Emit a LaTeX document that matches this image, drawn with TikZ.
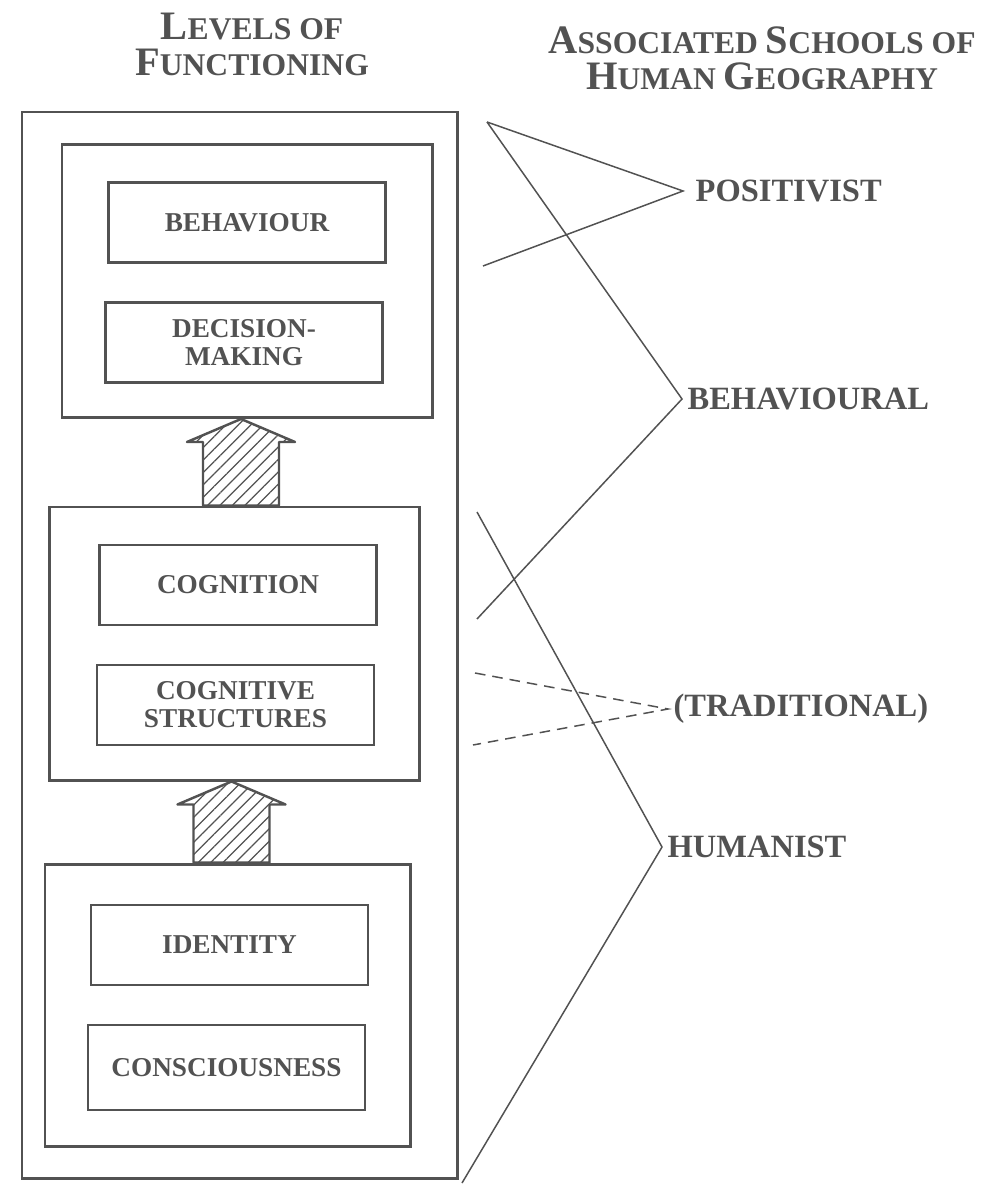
\documentclass[tikz,border=0pt]{standalone}
\usepackage{fontspec}
\setmainfont{Liberation Serif}
\usepackage{xcolor}
\usetikzlibrary{calc,patterns.meta}
\definecolor{ink}{RGB}{82,82,82}
\newdimen\pxu
\pxu=0.02cm
% hand-made small caps
\newcommand{\bigsc}[2]{{\fontsize{23}{21}\selectfont #1}{\fontsize{18}{21}\selectfont #2}}
% hatched arrow: shaft x, lower box, upper box
\newcommand{\liftarrow}[3]{%
  \draw[hatch] (#1-38,0 |- #2.north) -- ($(#1-38,0 |- #3.south)+(0,23)$)
    -- ($(#1-54,0 |- #3.south)+(0,23)$) -- (#1,0 |- #3.south)
    -- ($(#1+54,0 |- #3.south)+(0,23)$) -- ($(#1+38,0 |- #3.south)+(0,23)$)
    -- (#1+38,0 |- #2.north) -- cycle;}

\begin{document}
\begin{tikzpicture}[
        x=0.02cm, y=-0.02cm,
        head/.style={align=center, text=ink, font={\bfseries\fontsize{18}{20.5}\selectfont}},
        frame/.style={rectangle, draw=ink, line width=1.7pt, minimum width=435\pxu, minimum height=1066\pxu},
        group/.style={rectangle, draw=ink, line width=1.7pt, minimum width=370\pxu, minimum height=273\pxu},
        item/.style={rectangle, draw=ink, line width=1.6pt, minimum width=277\pxu, minimum height=80\pxu,
            align=center, text=ink, font={\bfseries\fontsize{15.5}{16}\selectfont}},
        school/.style={anchor=west, inner xsep=3pt, text=ink, font={\bfseries\fontsize{18.5}{22}\selectfont}},
        hatch/.style={draw=ink, line width=1.4pt, line join=round,
            pattern={Lines[angle=45, distance=5pt, line width=0.7pt]}, pattern color=ink},
        conn/.style={draw=ink, line width=0.85pt}
    ]
    \useasboundingbox (0,0) rectangle (995,1185);

    % headings
    \node[head] (lvl) at (252,44) {\bigsc{L}{EVELS OF}\\\bigsc{F}{UNCTIONING}};
    \node[head] (sch) at (762,58) {\bigsc{A}{SSOCIATED }\bigsc{S}{CHOOLS OF}\\\bigsc{H}{UMAN }\bigsc{G}{EOGRAPHY}};

    % levels
    \node[frame] (levels) at (239.5,645) {};
    \node[group] (act) at (247,281) {};
    \node[item] (beh) at (247,222.5) {BEHAVIOUR};
    \node[item] (dec) at (244,342.5) {DECISION-\\MAKING};
    \node[group] (cog) at (234.5,643.5) {};
    \node[item] (cgn) at (238,585) {COGNITION};
    \node[item] (cst) at (235.5,705) {COGNITIVE\\STRUCTURES};
    \node[group, minimum width=365\pxu, minimum height=282\pxu] (self) at (227.5,1005) {};
    \node[item] (idt) at (229.5,945) {IDENTITY};
    \node[item, minimum height=85\pxu] (csc) at (226.5,1067.5) {CONSCIOUSNESS};

    \liftarrow{241}{cog}{act}
    \liftarrow{231.5}{self}{cog}

    % schools
    \node[school, inner xsep=7pt] (pos) at (683,191) {POSITIVIST};
    \node[school] (bhv) at (682,399) {BEHAVIOURAL};
    \node[school] (trd) at (668,709) {(TRADITIONAL)};
    \node[school] (hum) at (662,847) {HUMANIST};

    \coordinate (rimA) at (487,122);
    \coordinate (rimB) at (483,266);
    \coordinate (rimC) at (477,619);
    \coordinate (rimD) at (475,673);
    \coordinate (rimE) at (473,745);
    \coordinate (rimF) at (477,512);
    \coordinate (rimG) at (462,1183);

    % brackets
    \draw[conn] (rimA) -- (pos.west) -- (rimB);
    \draw[conn] (rimA) -- (bhv.west) -- (rimC);
    \draw[conn, dash pattern=on 6pt off 4pt] (rimD) -- (trd.west) -- (rimE);
    \draw[conn] (rimF) -- (hum.west) -- (rimG);

\end{tikzpicture}
\end{document}
